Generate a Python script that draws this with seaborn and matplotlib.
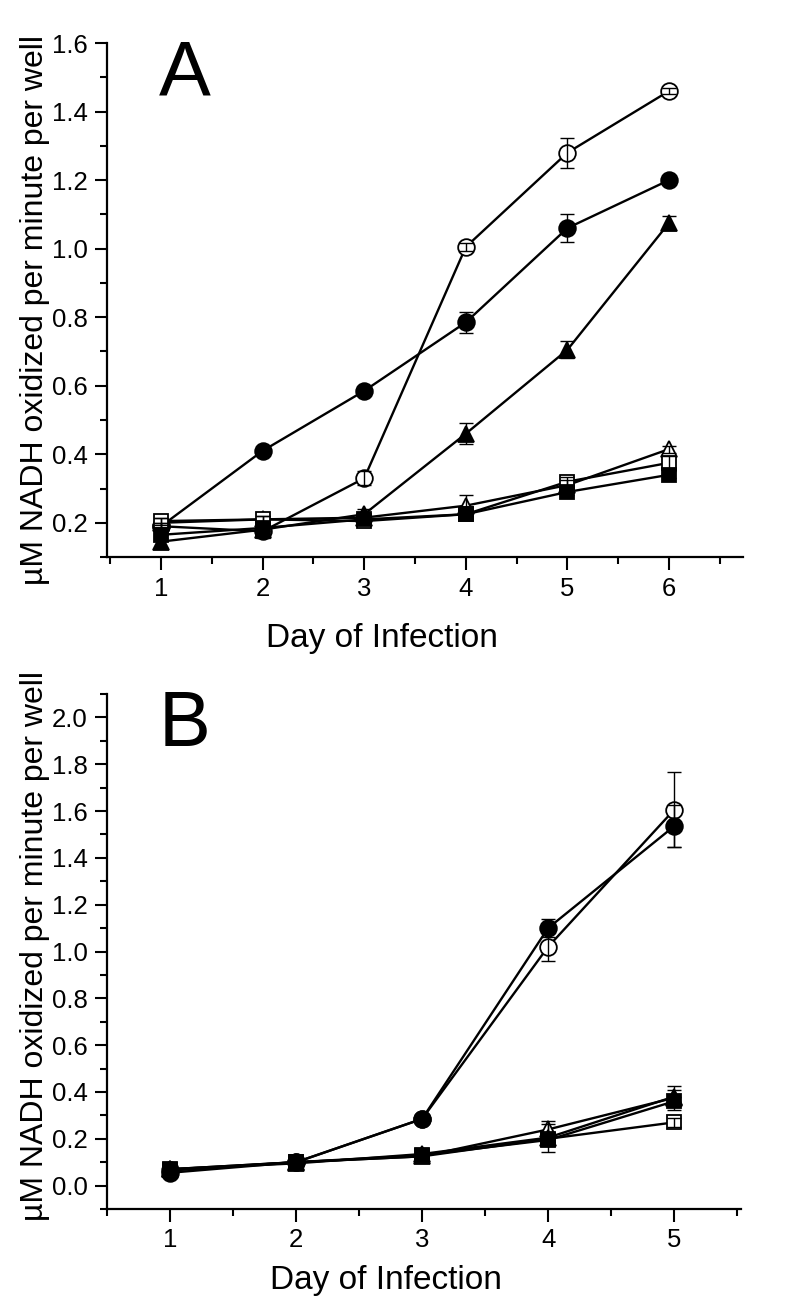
import numpy as np
import pandas as pd
import matplotlib
matplotlib.use("Agg")
import matplotlib.pyplot as plt
from matplotlib.ticker import MultipleLocator, FormatStrFormatter
import seaborn as sns

# Panel A : jours 1 a 6
days_a = [1, 2, 3, 4, 5, 6]
a_open_circle = [0.19, 0.175, 0.33, 1.005, 1.28, 1.46]
a_open_circle_err = [0.01, 0.02, 0.02, 0.012, 0.044, 0.01]
a_filled_circle = [0.19, 0.41, 0.585, 0.785, 1.06, 1.20]
a_filled_circle_err = [0.01, 0.01, 0.01, 0.03, 0.042, 0.01]
a_filled_triangle = [0.145, 0.18, 0.225, 0.46, 0.705, 1.075]
a_filled_triangle_err = [0.02, 0.02, 0.015, 0.03, 0.025, 0.02]
a_open_triangle = [0.20, 0.21, 0.215, 0.25, 0.31, 0.415]
a_open_triangle_err = [0.015, 0.01, 0.01, 0.03, 0.015, 0.01]
a_open_square = [0.205, 0.21, 0.205, 0.225, 0.32, 0.375]
a_open_square_err = [0.01, 0.01, 0.01, 0.01, 0.015, 0.02]
a_filled_square = [0.165, 0.185, 0.21, 0.225, 0.29, 0.34]
a_filled_square_err = [0.01, 0.01, 0.01, 0.01, 0.01, 0.01]

# Panel B : jours 1 a 5
days_b = [1, 2, 3, 4, 5]
b_open_circle = [0.065, 0.10, 0.285, 1.02, 1.605]
b_open_circle_err = [0.01, 0.01, 0.01, 0.06, 0.16]
b_filled_circle = [0.055, 0.10, 0.285, 1.10, 1.535]
b_filled_circle_err = [0.01, 0.01, 0.01, 0.04, 0.09]
b_open_triangle = [0.07, 0.10, 0.125, 0.24, 0.375]
b_open_triangle_err = [0.01, 0.01, 0.01, 0.035, 0.05]
b_filled_triangle = [0.07, 0.095, 0.135, 0.205, 0.38]
b_filled_triangle_err = [0.01, 0.01, 0.01, 0.06, 0.03]
b_open_square = [0.065, 0.10, 0.125, 0.20, 0.27]
b_open_square_err = [0.01, 0.01, 0.01, 0.02, 0.02]
b_filled_square = [0.07, 0.10, 0.13, 0.195, 0.36]
b_filled_square_err = [0.01, 0.01, 0.01, 0.02, 0.02]

# marqueur, taille, rempli
styles = {
    "open_circle": ("o", 12, False),
    "filled_circle": ("o", 12, True),
    "open_triangle": ("^", 12, False),
    "filled_triangle": ("^", 12, True),
    "open_square": ("s", 10, False),
    "filled_square": ("s", 10, True),
}


def make_frame(days, series):
    rows = []
    for name, (vals, errs) in series.items():
        for d, v, e in zip(days, vals, errs):
            rows.append({"day": d, "value": v, "err": e, "series": name})
    return pd.DataFrame(rows)


df_a = make_frame(days_a, {
    "open_circle": (a_open_circle, a_open_circle_err),
    "filled_circle": (a_filled_circle, a_filled_circle_err),
    "filled_triangle": (a_filled_triangle, a_filled_triangle_err),
    "open_triangle": (a_open_triangle, a_open_triangle_err),
    "open_square": (a_open_square, a_open_square_err),
    "filled_square": (a_filled_square, a_filled_square_err),
})
df_b = make_frame(days_b, {
    "open_circle": (b_open_circle, b_open_circle_err),
    "filled_circle": (b_filled_circle, b_filled_circle_err),
    "open_triangle": (b_open_triangle, b_open_triangle_err),
    "filled_triangle": (b_filled_triangle, b_filled_triangle_err),
    "open_square": (b_open_square, b_open_square_err),
    "filled_square": (b_filled_square, b_filled_square_err),
})

sns.set_theme(style="ticks")
plt.rcParams["font.family"] = ["Liberation Sans", "DejaVu Sans"]
plt.rcParams["text.color"] = "black"
plt.rcParams["axes.labelcolor"] = "black"
plt.rcParams["xtick.color"] = "black"
plt.rcParams["ytick.color"] = "black"

fig = plt.figure(figsize=(8, 13.16), dpi=100)
ax_a = fig.add_axes([0.134, 0.5767, 0.795, 0.3906])
ax_b = fig.add_axes([0.134, 0.0813, 0.792, 0.3913])


def draw_panel(ax, df):
    for name, sub in df.groupby("series", sort=False):
        marker, ms, filled = styles[name]
        sns.lineplot(data=sub, x="day", y="value", ax=ax, color="black",
                     linewidth=1.7, marker=marker, markersize=ms,
                     markerfacecolor="black" if filled else "white",
                     markeredgecolor="black", markeredgewidth=1.3,
                     errorbar=None, zorder=3)
        ax.errorbar(sub["day"], sub["value"], yerr=sub["err"], fmt="none",
                    ecolor="black", elinewidth=1.0, capsize=5, capthick=1.0,
                    zorder=4)


def style_axes(ax, xlim, ylim, letter, xlabel_x, xlabel_y, ylabel_y):
    ax.set_xlim(*xlim)
    ax.set_ylim(*ylim)
    ax.xaxis.set_major_locator(MultipleLocator(1))
    ax.xaxis.set_minor_locator(MultipleLocator(0.5))
    ax.yaxis.set_major_locator(MultipleLocator(0.2))
    ax.yaxis.set_minor_locator(MultipleLocator(0.1))
    ax.yaxis.set_major_formatter(FormatStrFormatter("%.1f"))
    ax.tick_params(which="major", direction="out", length=9, width=1.5,
                   labelsize=18.5, pad=5, colors="black")
    ax.tick_params(which="minor", direction="out", length=5, width=1.5,
                   colors="black")
    sns.despine(ax=ax)
    for sp in ["left", "bottom"]:
        ax.spines[sp].set_linewidth(1.6)
        ax.spines[sp].set_color("black")
    ax.set_xlabel("Day of Infection", fontsize=24, color="black")
    ax.xaxis.set_label_coords(xlabel_x, xlabel_y)
    ax.xaxis.label.set_verticalalignment("center")
    ax.set_ylabel("\u00b5M NADH oxidized per minute per well", fontsize=23,
                  color="black")
    ax.yaxis.set_label_coords(-0.09, ylabel_y)
    ax.text(0.122, 0.938, letter, transform=ax.transAxes, fontsize=56,
            ha="center", va="center", color="black")


draw_panel(ax_a, df_a)
style_axes(ax_a, (0.47, 6.73), (0.1, 1.6), "A", 0.432, -0.158, 0.48)

draw_panel(ax_b, df_b)
style_axes(ax_b, (0.5, 5.53), (-0.1, 2.1), "B", 0.44, -0.138, 0.51)

fig.savefig("out.png", dpi=100, facecolor="white")
